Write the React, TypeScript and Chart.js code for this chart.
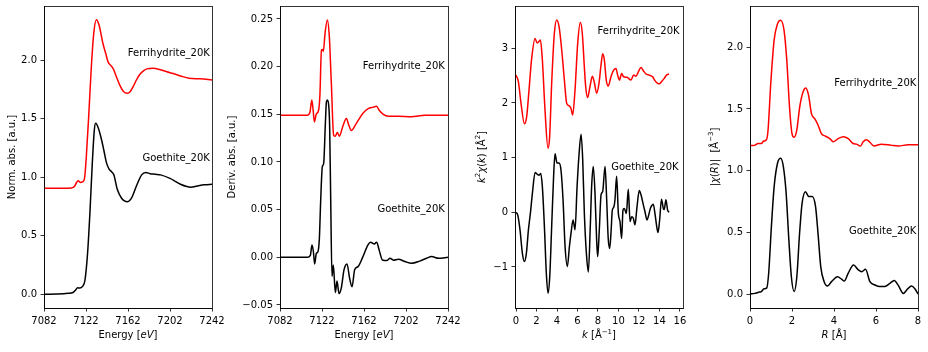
import React, { useEffect, useRef } from 'react';
import { Chart, registerables } from 'chart.js';

Chart.register(...registerables);

const FONT = "'DejaVu Sans', sans-serif";

// ---------- Panel 1: normalized XANES ----------
const xanesFerriE = [7082, 7100, 7108, 7111, 7113, 7114.5, 7116.5, 7119, 7120.5, 7122.3, 7124.9, 7127.1, 7129.4, 7131.9, 7134.4, 7138.2, 7141, 7143, 7146, 7148, 7151.7, 7154.5, 7157.5, 7161.4, 7164, 7167, 7170, 7173, 7177, 7180, 7186, 7192, 7199, 7205, 7212, 7220, 7231, 7242];
const xanesFerriMu = [0.905, 0.905, 0.908, 0.92, 0.955, 0.97, 0.955, 0.962, 0.985, 1.175, 1.575, 1.945, 2.23, 2.345, 2.3, 2.14, 2.05, 1.985, 1.95, 1.925, 1.84, 1.78, 1.735, 1.717, 1.73, 1.775, 1.83, 1.875, 1.91, 1.925, 1.93, 1.92, 1.9, 1.885, 1.865, 1.845, 1.84, 1.83];
const xanesGoeE = [7082, 7095, 7105, 7109.6, 7112, 7114, 7116, 7118.7, 7121, 7123.5, 7125.7, 7128, 7130, 7131.2, 7133.7, 7136.8, 7139, 7141.6, 7144, 7146.5, 7148.5, 7151.7, 7155.9, 7159, 7161.5, 7164, 7166, 7170.5, 7175, 7179, 7183, 7188, 7193, 7202, 7212, 7218, 7222, 7228, 7235, 7242];
const xanesGoeMu = [0, 0.002, 0.008, 0.015, 0.035, 0.055, 0.053, 0.067, 0.12, 0.35, 0.69, 1.12, 1.41, 1.46, 1.42, 1.32, 1.23, 1.12, 1.07, 1.045, 1.02, 0.9, 0.82, 0.795, 0.79, 0.805, 0.833, 0.935, 1.02, 1.04, 1.03, 1.025, 1.02, 0.99, 0.94, 0.92, 0.915, 0.925, 0.935, 0.94];

// ---------- Panel 2: derivative ----------
const derivFerriE = [7082, 7108, 7110.5, 7112.3, 7113.5, 7114.8, 7116.5, 7118.8, 7120, 7121.5, 7122.5, 7123.3, 7124.9, 7127.1, 7129, 7130.9, 7133.1, 7134.7, 7136.6, 7138.5, 7141.7, 7145.2, 7147.4, 7149.9, 7154.7, 7161, 7166, 7171, 7174, 7176.3, 7180.4, 7185, 7195, 7207, 7220, 7233, 7242];
const derivFerri = [0.149, 0.149, 0.152, 0.165, 0.155, 0.142, 0.15, 0.1545, 0.17, 0.2175, 0.218, 0.216, 0.235, 0.249, 0.231, 0.1825, 0.128, 0.127, 0.131, 0.127, 0.137, 0.1457, 0.139, 0.133, 0.1405, 0.151, 0.156, 0.1575, 0.1585, 0.1545, 0.15, 0.148, 0.148, 0.1475, 0.149, 0.149, 0.149];
const derivGoeE = [7082, 7108, 7110.9, 7112.5, 7113.8, 7115, 7116.6, 7118.2, 7119.5, 7120.7, 7122.3, 7123.6, 7125.2, 7126.2, 7127.1, 7128.5, 7129.3, 7130.3, 7131.5, 7132.8, 7134.7, 7136.3, 7138.2, 7140.4, 7143, 7145.8, 7148.3, 7150.6, 7153.1, 7156.3, 7161, 7165.8, 7168.3, 7171.8, 7174, 7176.6, 7179.5, 7183.6, 7186.8, 7190, 7194.7, 7201, 7207.4, 7215, 7221.7, 7226.4, 7233, 7242];
const derivGoe = [0, 0, 0.002, 0.013, 0.006, -0.007, 0.004, 0.006, 0.02, 0.058, 0.095, 0.0985, 0.14, 0.163, 0.165, 0.158, 0.1365, 0.06, -0.02, -0.008, -0.037, -0.025, -0.038, -0.032, -0.013, -0.007, -0.022, -0.031, -0.013, -0.0098, 0.0007, 0.0131, 0.0157, 0.014, 0.0157, 0.007, -0.0028, -0.0035, -0.001, -0.003, -0.002, -0.0045, -0.0063, -0.004, -0.001, 0.0007, -0.001, 0];

// ---------- Panel 3: k^2-weighted EXAFS ----------
const exafsFerriK = [0, 0.23, 0.49, 0.82, 1.04, 1.27, 1.53, 1.86, 2.05, 2.21, 2.38, 2.57, 2.83, 3.12, 3.28, 3.48, 3.74, 3.97, 4.2, 4.46, 4.72, 4.95, 5.17, 5.37, 5.53, 5.76, 6.02, 6.28, 6.47, 6.67, 6.8, 6.99, 7.22, 7.45, 7.65, 7.87, 8.1, 8.3, 8.46, 8.62, 8.81, 9.0, 9.27, 9.53, 9.76, 9.92, 10.1, 10.31, 10.5, 10.83, 11.22, 11.48, 11.71, 11.94, 12.2, 12.43, 12.69, 13.0, 13.34, 13.56, 13.82, 13.99, 14.2, 14.47, 14.69, 14.93];
const exafsFerri = [2.51, 2.39, 1.99, 1.62, 1.75, 2.24, 2.82, 3.18, 3.1, 3.12, 3.15, 2.79, 1.87, 1.17, 1.38, 2.36, 3.27, 3.52, 3.4, 2.97, 2.42, 1.99, 1.95, 1.9, 1.78, 2.24, 3.09, 3.47, 3.27, 2.66, 2.3, 2.1, 2.3, 2.49, 2.37, 2.18, 2.36, 2.7, 2.9, 2.79, 2.42, 2.31, 2.48, 2.6, 2.63, 2.51, 2.42, 2.54, 2.48, 2.47, 2.42, 2.51, 2.49, 2.57, 2.65, 2.59, 2.53, 2.51, 2.48, 2.41, 2.36, 2.35, 2.39, 2.45, 2.51, 2.53];
const exafsGoeK = [0, 0.17, 0.39, 0.62, 0.82, 1.01, 1.21, 1.4, 1.6, 1.86, 2.05, 2.25, 2.41, 2.57, 2.77, 2.96, 3.12, 3.29, 3.48, 3.68, 3.81, 4.0, 4.2, 4.39, 4.59, 4.79, 5.01, 5.21, 5.37, 5.57, 5.76, 5.96, 6.16, 6.35, 6.51, 6.67, 6.87, 7.06, 7.25, 7.38, 7.54, 7.71, 7.87, 7.97, 8.13, 8.3, 8.46, 8.69, 8.85, 9.0, 9.14, 9.27, 9.4, 9.53, 9.66, 9.82, 9.99, 10.15, 10.31, 10.44, 10.57, 10.77, 10.96, 11.13, 11.29, 11.45, 11.61, 11.81, 12.03, 12.2, 12.4, 12.59, 12.79, 12.91, 13.11, 13.24, 13.4, 13.56, 13.76, 13.86, 14.02, 14.2, 14.38, 14.47, 14.63, 14.8, 14.93];
const exafsGoe = [0, -0.05, -0.32, -0.75, -0.9, -0.75, -0.32, -0.02, 0.35, 0.73, 0.7, 0.68, 0.71, 0.47, -0.26, -1.12, -1.48, -1.18, -0.26, 0.71, 1.07, 0.9, 0.9, 0.77, 0.23, -0.63, -0.99, -0.63, -0.38, -0.14, -0.32, 0.47, 1.08, 1.43, 0.96, -0.02, -0.75, -1.09, -0.26, 0.47, 0.84, 0.35, -0.51, -0.81, -0.32, 0.32, 0.38, 0.84, 0.23, -0.48, -0.66, -0.38, 0.04, 0.09, 0.23, 0.66, -0.02, -0.17, -0.48, 0.04, 0.07, -0.02, 0.42, -0.17, -0.08, -0.11, -0.23, 0.1, 0.4, 0.32, 0.16, 0.01, -0.14, -0.08, 0.07, 0.12, 0.15, -0.02, -0.29, -0.37, -0.14, 0.24, 0.07, 0.05, 0.23, 0.04, 0];

// ---------- Panel 4: Fourier transform magnitude ----------
const ftFerriR = [0, 0.22, 0.38, 0.54, 0.65, 0.78, 0.86, 0.99, 1.15, 1.31, 1.46, 1.62, 1.75, 1.88, 2.0, 2.1, 2.23, 2.37, 2.53, 2.66, 2.79, 2.93, 3.09, 3.24, 3.4, 3.59, 3.8, 3.96, 4.2, 4.44, 4.68, 4.91, 5.07, 5.26, 5.39, 5.55, 5.71, 5.9, 6.26, 6.74, 7.06, 7.54, 8.0];
const ftFerri = [1.203, 1.205, 1.22, 1.22, 1.24, 1.25, 1.33, 1.71, 2.06, 2.19, 2.22, 2.14, 1.9, 1.52, 1.3, 1.27, 1.33, 1.52, 1.64, 1.67, 1.61, 1.46, 1.42, 1.37, 1.3, 1.28, 1.26, 1.235, 1.26, 1.275, 1.26, 1.22, 1.215, 1.2, 1.235, 1.25, 1.23, 1.2, 1.215, 1.205, 1.2, 1.21, 1.21];
const ftGoeR = [0, 0.22, 0.41, 0.54, 0.67, 0.8, 0.89, 1.02, 1.15, 1.31, 1.46, 1.59, 1.72, 1.85, 1.97, 2.1, 2.23, 2.36, 2.48, 2.64, 2.8, 2.96, 3.12, 3.24, 3.37, 3.53, 3.69, 3.88, 4.17, 4.36, 4.49, 4.68, 4.93, 5.16, 5.32, 5.5, 5.71, 5.95, 6.18, 6.42, 6.66, 6.87, 7.06, 7.3, 7.5, 7.69, 7.85, 8.0];
const ftGoe = [0, 0.005, 0.014, 0.02, 0.043, 0.05, 0.17, 0.55, 0.87, 1.06, 1.1, 1.03, 0.82, 0.44, 0.14, 0.02, 0.14, 0.49, 0.735, 0.83, 0.79, 0.79, 0.71, 0.49, 0.22, 0.1, 0.065, 0.1, 0.14, 0.12, 0.105, 0.17, 0.235, 0.195, 0.18, 0.2, 0.1, 0.073, 0.06, 0.06, 0.086, 0.11, 0.07, 0.005, 0.04, 0.065, 0.043, 0];

// ---------- ticks ----------
const energyTicks = [7082, 7122, 7162, 7202, 7242];
const energyTickLabels = ['7082', '7122', '7162', '7202', '7242'];
const normTicks = [0, 0.5, 1, 1.5, 2];
const normTickLabels = ['0.0', '0.5', '1.0', '1.5', '2.0'];
const derivTicks = [-0.05, 0, 0.05, 0.1, 0.15, 0.2, 0.25];
const derivTickLabels = ['\u22120.05', '0.00', '0.05', '0.10', '0.15', '0.20', '0.25'];
const kTicks = [0, 2, 4, 6, 8, 10, 12, 14, 16];
const kTickLabels = ['0', '2', '4', '6', '8', '10', '12', '14', '16'];
const chiTicks = [-1, 0, 1, 2, 3];
const chiTickLabels = ['\u22121', '0', '1', '2', '3'];
const rTicks = [0, 2, 4, 6, 8];
const rTickLabels = ['0', '2', '4', '6', '8'];
const ftTicks = [0, 0.5, 1, 1.5, 2];
const ftTickLabels = ['0.0', '0.5', '1.0', '1.5', '2.0'];

const sampleNames = ['Ferrihydrite_20K', 'Goethite_20K'];
const sampleColors = ['#ff0000', '#000000'];

type Seg = { t: string; i?: boolean; sup?: boolean };

type PanelCfg = {
  left: number;
  xMin: number; xMax: number; yMin: number; yMax: number;
  xTicks: number[]; xLabels: string[]; yTicks: number[]; yLabels: string[];
  series: [number[], number[]][];
  notes: [number, number][];
  xTitle: Seg[]; yTitle: Seg[];
  yTitleX: number; xTitleY: number;
};

const panels: PanelCfg[] = [
  {
    left: 44, xMin: 7082, xMax: 7242, yMin: -0.117, yMax: 2.462,
    xTicks: energyTicks, xLabels: energyTickLabels, yTicks: normTicks, yLabels: normTickLabels,
    series: [[xanesFerriE, xanesFerriMu], [xanesGoeE, xanesGoeMu]],
    notes: [[7240, 2.037], [7240, 1.138]],
    xTitle: [{ t: 'Energy [' }, { t: 'eV', i: true }, { t: ']' }],
    yTitle: [{ t: 'Norm. abs. [a.u.]' }],
    yTitleX: 14.5, xTitleY: 338,
  },
  {
    left: 280, xMin: 7082, xMax: 7242, yMin: -0.0532, yMax: 0.2636,
    xTicks: energyTicks, xLabels: energyTickLabels, yTicks: derivTicks, yLabels: derivTickLabels,
    series: [[derivFerriE, derivFerri], [derivGoeE, derivGoe]],
    notes: [[7239, 0.198], [7239, 0.048]],
    xTitle: [{ t: 'Energy [' }, { t: 'eV', i: true }, { t: ']' }],
    yTitle: [{ t: 'Deriv. abs. [a.u.]' }],
    yTitleX: 235, xTitleY: 338,
  },
  {
    left: 515, xMin: -0.1, xMax: 16.3, yMin: -1.75, yMax: 3.774,
    xTicks: kTicks, xLabels: kTickLabels, yTicks: chiTicks, yLabels: chiTickLabels,
    series: [[exafsFerriK, exafsFerri], [exafsGoeK, exafsGoe]],
    notes: [[15.97, 3.27], [15.87, 0.774]],
    xTitle: [{ t: 'k', i: true }, { t: ' [' }, { t: '\u00c5' }, { t: '\u22121', sup: true }, { t: ']' }],
    yTitle: [{ t: 'k', i: true }, { t: '2', sup: true }, { t: '\u03c7', i: true }, { t: '(' }, { t: 'k', i: true }, { t: ')' }, { t: ' [' }, { t: '\u00c5' }, { t: '2', sup: true }, { t: ']' }],
    yTitleX: 484.5, xTitleY: 338,
  },
  {
    left: 750, xMin: 0, xMax: 8, yMin: -0.1135, yMax: 2.335,
    xTicks: rTicks, xLabels: rTickLabels, yTicks: ftTicks, yLabels: ftTickLabels,
    series: [[ftFerriR, ftFerri], [ftGoeR, ftGoe]],
    notes: [[7.92, 1.687], [7.92, 0.484]],
    xTitle: [{ t: 'R', i: true }, { t: ' [' }, { t: '\u00c5' }, { t: ']' }],
    yTitle: [{ t: '|' }, { t: '\u03c7', i: true }, { t: '(' }, { t: 'R', i: true }, { t: ')|' }, { t: '  [' }, { t: '\u00c5' }, { t: '\u22123', sup: true }, { t: ']' }],
    yTitleX: 717.5, xTitleY: 338,
  },
];

const AXIS_W = 60;
const PAD_R = 20;
const PAD_T = 20;
const X_AXIS_H = 44;
const PLOT_W = 168;
const TOP_SHIFT = 14;
const CANVAS_W = AXIS_W + PLOT_W + PAD_R;
const CANVAS_H = 352 + TOP_SHIFT;

function fontOf(s: Seg) {
  return `${s.i ? 'italic ' : ''}${s.sup ? 7 : 10}px ${FONT}`;
}

function drawRich(ctx: CanvasRenderingContext2D, segs: Seg[], x: number, y: number, rotate: boolean) {
  ctx.save();
  ctx.translate(x, y);
  if (rotate) ctx.rotate(-Math.PI / 2);
  ctx.textBaseline = 'alphabetic';
  ctx.textAlign = 'left';
  ctx.fillStyle = '#000';
  let w = 0;
  for (const s of segs) {
    ctx.font = fontOf(s);
    w += ctx.measureText(s.t).width;
  }
  let cx = -w / 2;
  for (const s of segs) {
    ctx.font = fontOf(s);
    ctx.fillText(s.t, cx, s.sup ? -4.5 : 0);
    cx += ctx.measureText(s.t).width;
  }
  ctx.restore();
}

function align(p: number) {
  return Math.round(p - 0.4) + 0.4;
}

function Panel({ cfg }: { cfg: PanelCfg }) {
  const ref = useRef<HTMLCanvasElement>(null);
  const canvasLeft = cfg.left - AXIS_W;

  useEffect(() => {
    const canvas = ref.current;
    if (!canvas) return;
    const deco = {
      id: 'deco',
      afterDraw(chart: any) {
        const ctx: CanvasRenderingContext2D = chart.ctx;
        const a = chart.chartArea;
        ctx.save();
        ctx.strokeStyle = '#000';
        ctx.lineWidth = 0.8;
        const l = align(a.left), r = align(a.right), t = align(a.top), b = align(a.bottom);
        ctx.strokeRect(l, t, r - l, b - t);
        // annotations
        ctx.font = `10px ${FONT}`;
        ctx.textAlign = 'right';
        ctx.textBaseline = 'alphabetic';
        ctx.fillStyle = '#000';
        cfg.notes.forEach(([nx, ny], i) => {
          ctx.fillText(sampleNames[i], chart.scales.x.getPixelForValue(nx), chart.scales.y.getPixelForValue(ny));
        });
        ctx.restore();
        drawRich(ctx, cfg.xTitle, (a.left + a.right) / 2, cfg.xTitleY + TOP_SHIFT, false);
        drawRich(ctx, cfg.yTitle, cfg.yTitleX - canvasLeft, (a.top + a.bottom) / 2, true);
      },
    };
    const tickFont = { family: FONT, size: 10 };
    const chart = new Chart(canvas, {
      type: 'line',
      data: {
        datasets: cfg.series.map(([xs, ys], i) => ({
          label: sampleNames[i],
          data: xs.map((x, j) => ({ x, y: ys[j] })),
          borderColor: sampleColors[i],
          backgroundColor: sampleColors[i],
          borderWidth: 1.5,
          pointRadius: 0,
          fill: false,
          cubicInterpolationMode: 'monotone' as const,
        })),
      },
      options: {
        responsive: false,
        animation: false,
        devicePixelRatio: 1,
        events: [],
        layout: { padding: { left: 0, right: PAD_R, top: PAD_T, bottom: 0 } },
        plugins: { legend: { display: false }, tooltip: { enabled: false } },
        scales: {
          x: {
            type: 'linear',
            min: cfg.xMin,
            max: cfg.xMax,
            afterFit: (s: any) => { s.height = X_AXIS_H; },
            afterBuildTicks: (s: any) => { s.ticks = cfg.xTicks.map((v) => ({ value: v })); },
            ticks: {
              callback: (_v: any, i: number) => cfg.xLabels[i],
              font: tickFont, color: '#000', padding: 3.5, maxRotation: 0, minRotation: 0, autoSkip: false,
            },
            grid: { drawOnChartArea: false, tickLength: 3.5, color: '#000', lineWidth: 0.8 },
            border: { display: true, color: '#000', width: 0.8 },
          },
          y: {
            type: 'linear',
            min: cfg.yMin,
            max: cfg.yMax,
            afterFit: (s: any) => { s.width = AXIS_W; },
            afterBuildTicks: (s: any) => { s.ticks = cfg.yTicks.map((v) => ({ value: v })); },
            ticks: {
              callback: (_v: any, i: number) => cfg.yLabels[i],
              font: tickFont, color: '#000', padding: 3.5, autoSkip: false,
            },
            grid: { drawOnChartArea: false, tickLength: 3.5, color: '#000', lineWidth: 0.8 },
            border: { display: true, color: '#000', width: 0.8 },
          },
        },
      },
      plugins: [deco],
    } as any);
    return () => chart.destroy();
  }, [cfg]);

  return (
    <canvas
      ref={ref}
      width={CANVAS_W}
      height={CANVAS_H}
      style={{ position: 'absolute', left: canvasLeft, top: -TOP_SHIFT, width: CANVAS_W, height: CANVAS_H }}
    />
  );
}

export default function App() {
  return (
    <div style={{ position: 'absolute', left: 0, top: 0, width: 928, height: 352, overflow: 'hidden', background: '#fff' }}>
      {panels.map((p, i) => (
        <Panel key={i} cfg={p} />
      ))}
    </div>
  );
}
